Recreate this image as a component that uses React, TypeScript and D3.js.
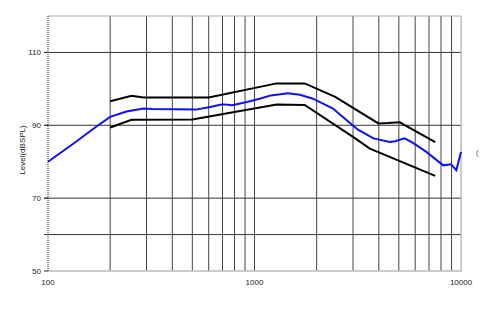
import React from "react";
import * as d3 from "d3";

const xTickLabels = [100, 1000, 10000];
const yTickLabels = [50, 70, 90, 110];
const hGrid = [60, 70, 90, 110];
const vGrid = [200, 300, 400, 500, 600, 700, 800, 900, 1000, 2000, 3000, 4000, 5000, 6000, 7000, 8000, 9000];

const upperFreq = [200, 254, 290, 600, 1280, 1750, 2460, 3980, 4430, 5050, 7500];
const upperLevel = [96.6, 98.1, 97.6, 97.6, 101.5, 101.5, 97.8, 90.5, 90.6, 90.8, 85.4];

const lowerFreq = [200, 254, 500, 1280, 1750, 3000, 3620, 7500];
const lowerLevel = [89.4, 91.5, 91.6, 95.7, 95.6, 86.8, 83.6, 76.1];

const measFreq = [100, 133, 175, 200, 240, 290, 320, 520, 610, 700, 780, 920, 1060, 1200, 1450, 1660, 1920, 2400, 2600, 3170, 3770, 4520, 4800, 5330, 5800, 6800, 8200, 8950, 9500, 10000];
const measLevel = [80, 85, 90, 92.3, 93.8, 94.6, 94.5, 94.3, 95, 95.8, 95.5, 96.4, 97.3, 98.2, 98.8, 98.4, 97.3, 94.6, 92.9, 88.8, 86.4, 85.4, 85.6, 86.4, 85.3, 82.7, 79, 79.3, 77.7, 82.7];

export default function App() {
  const W = 500, H = 310;
  const left = 48, right = 461, top = 16, bottom = 271;
  const x = d3.scaleLog().domain([100, 10000]).range([left, right]);
  const y = d3.scaleLinear().domain([50, 120]).range([bottom, top]);
  const line = d3.line<[number, number]>().x(d => x(d[0])).y(d => y(d[1]));
  const zip = (a: number[], b: number[]) => a.map((v, i) => [v, b[i]] as [number, number]);
  const font = "'Liberation Sans', Arial, sans-serif";
  return (
    <svg width={W} height={H} style={{ position: "absolute", left: 0, top: 0, background: "#fff" }}>
      {hGrid.map(v => (
        <line key={"h" + v} x1={left - 4} x2={right} y1={y(v)} y2={y(v)} stroke="#333" strokeWidth={1} />
      ))}
      {vGrid.map(f => (
        <line key={"v" + f} x1={x(f)} x2={x(f)} y1={top} y2={bottom} stroke="#444" strokeWidth={1} />
      ))}
      <line x1={left} x2={right} y1={top} y2={top} stroke="#aaa" strokeWidth={1} />
      <line x1={right} x2={right} y1={top} y2={bottom} stroke="#aaa" strokeWidth={1.2} />
      <line x1={left} x2={right + 1} y1={bottom} y2={bottom} stroke="#bbb" strokeWidth={1.5} />
      <line x1={left} x2={left} y1={top} y2={bottom} stroke="#222" strokeWidth={1} strokeDasharray="1,1" />
      {yTickLabels.map(v => (
        <line key={"t" + v} x1={left - 4} x2={left} y1={y(v)} y2={y(v)} stroke="#333" strokeWidth={1} />
      ))}
      {yTickLabels.map(v => (
        <text key={"yl" + v} x={41} y={y(v) + 3} textAnchor="end" fontSize={8} fontFamily={font} fill="#222">{v}</text>
      ))}
      {xTickLabels.map(f => (
        <text key={"xl" + f} x={x(f)} y={285} textAnchor="middle" fontSize={8} fontFamily={font} fill="#222">{f}</text>
      ))}
      <text transform={`translate(25,150) rotate(-90)`} textAnchor="middle" fontSize={8} fontFamily={font} fill="#222">Level(dBSPL)</text>
      <text x={476} y={155} fontSize={7} fontFamily={font} fill="#444">(</text>
      <path d={line(zip(upperFreq, upperLevel)) || ""} fill="none" stroke="#000" strokeWidth={2} />
      <path d={line(zip(lowerFreq, lowerLevel)) || ""} fill="none" stroke="#000" strokeWidth={2} />
      <path d={line(zip(measFreq, measLevel)) || ""} fill="none" stroke="#1010f0" strokeWidth={2} />
    </svg>
  );
}
